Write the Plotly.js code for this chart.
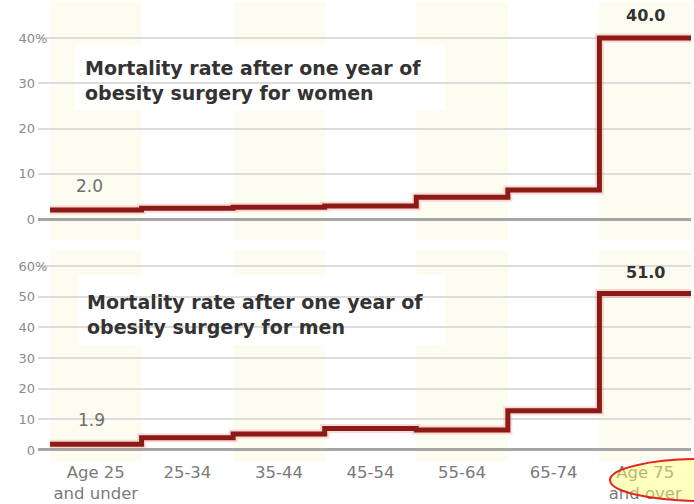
<!DOCTYPE html>
<html>
<head>
<meta charset="utf-8">
<script src="https://cdn.plot.ly/plotly-3.0.1.min.js"></script>
<style>
  html, body { margin: 0; padding: 0; background: #ffffff; }
  #chart { width: 694px; height: 504px; }
</style>
</head>
<body>
<div id="chart"></div>
<script>
// Age groups along the bottom
const ageGroups = ['Age 25<br>and under', '25-34', '35-44', '45-54', '55-64', '65-74', 'Age 75<br>and over'];

// One-year mortality after obesity surgery, percent
const womenRate = [2.0, 2.4, 2.6, 2.9, 4.8, 6.4, 40.0];
const menRate   = [1.9, 4.0, 5.2, 7.0, 6.5, 12.8, 51.0];

// Axis ticks for each panel
const womenTicks = [0, 10, 20, 30, 40];
const menTicks   = [0, 10, 20, 30, 40, 50, 60];

const W = 694, H = 504;
const px = v => v / W;          // horizontal pixel -> paper
const py = v => 1 - v / H;      // vertical pixel -> paper

const LINE = '#8c1a17';
const HALO = 'rgba(230,110,110,0.25)';
const BAND = '#fcfcf0';
const FONT = 'DejaVu Sans, Verdana, sans-serif';

// Step series: each group spans [i, i+1]; repeat the last value to close the final step
function stepX(vals) { return vals.map((_, i) => i).concat([vals.length]); }
function stepY(vals) { return vals.concat([vals[vals.length - 1]]); }

function series(vals, xa, ya) {
  return [
    { x: stepX(vals), y: stepY(vals), xaxis: xa, yaxis: ya, type: 'scatter', mode: 'lines',
      line: { shape: 'hv', color: HALO, width: 9 }, hoverinfo: 'skip', showlegend: false },
    { x: stepX(vals), y: stepY(vals), xaxis: xa, yaxis: ya, type: 'scatter', mode: 'lines',
      line: { shape: 'hv', color: LINE, width: 5 }, showlegend: false }
  ];
}

const traces = [].concat(series(womenRate, 'x', 'y'), series(menRate, 'x2', 'y2'));

const tickCenters = ageGroups.map((_, i) => i + 0.5);
const xRange = [-0.131, ageGroups.length];

function yAxis(ticks, domain, range) {
  return {
    domain: domain, range: range, fixedrange: true,
    tickvals: ticks, ticktext: ticks.map(String),
    showgrid: true, gridcolor: '#dcdcdc', gridwidth: 2,
    zeroline: true, zerolinecolor: '#a6a6a6', zerolinewidth: 3,
    showline: false, ticks: '', ticklabelstandoff: 2,
    tickfont: { family: FONT, size: 13, color: '#8a8a8a' }
  };
}

// Alternating pale column bands behind each panel
const shapes = [];
ageGroups.forEach((_, i) => {
  if (i % 2 === 0) {
    shapes.push({ type: 'rect', xref: 'x', yref: 'paper', x0: i, x1: i + 1,
      y0: py(240), y1: py(2), fillcolor: BAND, line: { width: 0 }, layer: 'below' });
    shapes.push({ type: 'rect', xref: 'x2', yref: 'paper', x0: i, x1: i + 1,
      y0: py(462), y1: py(250), fillcolor: BAND, line: { width: 0 }, layer: 'below' });
  }
});
// White boxes under the panel headings
shapes.push({ type: 'rect', xref: 'paper', yref: 'paper', x0: px(75), x1: px(445),
  y0: py(110), y1: py(45), fillcolor: '#ffffff', line: { width: 0 }, layer: 'below' });
shapes.push({ type: 'rect', xref: 'paper', yref: 'paper', x0: px(78), x1: px(445),
  y0: py(345), y1: py(275), fillcolor: '#ffffff', line: { width: 0 }, layer: 'below' });
// Highlight ring around the oldest age group
shapes.push({ type: 'circle', xref: 'paper', yref: 'paper', x0: px(610), x1: px(792),
  y0: py(501), y1: py(459), fillcolor: 'rgba(255,255,110,0.45)',
  line: { color: '#e8231c', width: 2 }, layer: 'above' });

const last = ageGroups.length - 1;
const annotations = [
  { xref: 'paper', yref: 'paper', x: px(83), y: py(80), xanchor: 'left', yanchor: 'middle',
    align: 'left', showarrow: false,
    text: 'Mortality rate after one year of<br>obesity surgery for women',
    font: { family: FONT, size: 19, color: '#333333', weight: 'bold' } },
  { xref: 'paper', yref: 'paper', x: px(85), y: py(314), xanchor: 'left', yanchor: 'middle',
    align: 'left', showarrow: false,
    text: 'Mortality rate after one year of<br>obesity surgery for men',
    font: { family: FONT, size: 19, color: '#333333', weight: 'bold' } },
  // value labels on the first and last steps
  { xref: 'x', yref: 'y', x: 0.5, y: womenRate[0], yanchor: 'bottom', xshift: -6, yshift: 12,
    showarrow: false, text: womenRate[0].toFixed(1),
    font: { family: FONT, size: 17, color: '#6f6f6f' } },
  { xref: 'x', yref: 'y', x: last + 0.5, y: womenRate[last], yanchor: 'bottom', yshift: 11,
    showarrow: false, text: womenRate[last].toFixed(1),
    font: { family: FONT, size: 16, color: '#333333', weight: 'bold' } },
  { xref: 'x2', yref: 'y2', x: 0.5, y: menRate[0], yanchor: 'bottom', xshift: -4, yshift: 12,
    showarrow: false, text: menRate[0].toFixed(1),
    font: { family: FONT, size: 17, color: '#6f6f6f' } },
  { xref: 'x2', yref: 'y2', x: last + 0.5, y: menRate[last], yanchor: 'bottom', yshift: 10,
    showarrow: false, text: menRate[last].toFixed(1),
    font: { family: FONT, size: 16, color: '#333333', weight: 'bold' } },
  // percent sign trailing the top tick of each panel
  { xref: 'paper', yref: 'y', x: px(33), y: womenTicks[womenTicks.length - 1], xanchor: 'left',
    yanchor: 'middle', showarrow: false, text: '%',
    font: { family: FONT, size: 13, color: '#8a8a8a' } },
  { xref: 'paper', yref: 'y2', x: px(33), y: menTicks[menTicks.length - 1], xanchor: 'left',
    yanchor: 'middle', showarrow: false, text: '%',
    font: { family: FONT, size: 13, color: '#8a8a8a' } }
];

const layout = {
  width: W, height: H,
  margin: { l: 0, r: 0, t: 0, b: 0 },
  paper_bgcolor: '#ffffff', plot_bgcolor: 'rgba(0,0,0,0)',
  showlegend: false,
  xaxis: { domain: [px(38), px(691)], range: xRange, anchor: 'y', fixedrange: true,
    showgrid: false, zeroline: false, showticklabels: false, ticks: '' },
  yaxis: yAxis(womenTicks, [py(228.05), py(28.95)], [-2, 42]),
  xaxis2: { domain: [px(38), px(691)], range: xRange, anchor: 'y2', fixedrange: true,
    showgrid: false, zeroline: false, ticks: '',
    tickvals: tickCenters, ticktext: ageGroups, ticklabelstandoff: 4,
    tickfont: { family: FONT, size: 16.5, color: '#7a7a7a' } },
  yaxis2: yAxis(menTicks, [py(456.1), py(259.9)], [-2, 62]),
  shapes: shapes,
  annotations: annotations
};

Plotly.newPlot('chart', traces, layout, { staticPlot: true, displayModeBar: false });
</script>
</body>
</html>
